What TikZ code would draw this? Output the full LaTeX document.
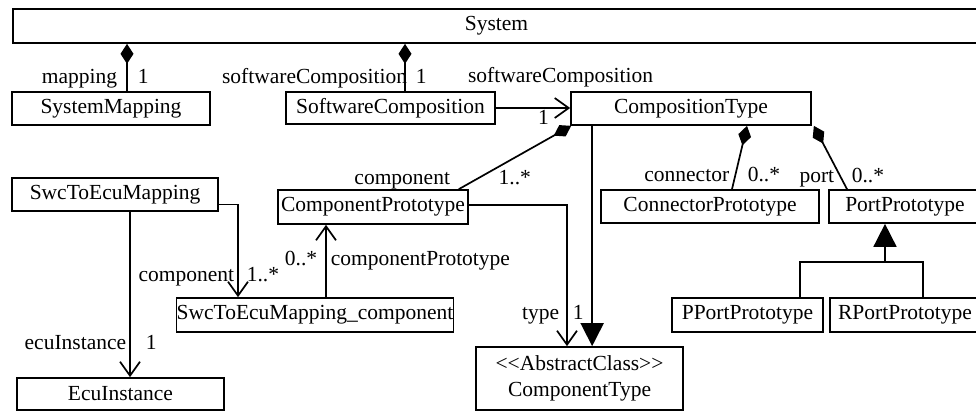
\documentclass[tikz,border=0pt]{standalone}
\usepackage{fontspec}
\setmainfont{Liberation Serif}
\usepackage{tikz}
\usetikzlibrary{arrows.meta}

\begin{document}
\begin{tikzpicture}
    [
        x=1pt, y=-1pt,
        font=\fontsize{21.5}{26}\selectfont,
        line width=1.7pt,
        cls/.style={draw, inner sep=0pt, minimum height=33pt},
        lbl/.style={inner sep=0pt},
        compo/.style={arrows={Diamond[length=20pt,width=13pt]-}},
        assoc/.style={arrows={-Straight Barb[length=14pt,width=20pt]}},
        inherit/.style={arrows={-Triangle[length=23pt,width=23pt]}},
    ]
    \useasboundingbox (0,0) rectangle (976,411);

    \node[cls, minimum width=967pt, minimum height=34pt] (sys) at (496.5,26) {System};
    \node[cls, minimum width=198pt] (sm) at (111,108.5) {SystemMapping};
    \node[cls, minimum width=209pt, minimum height=32pt] (swc) at (390.5,108) {SoftwareComposition};
    \node[cls, minimum width=240pt] (ct) at (691,108.5) {CompositionType};
    \node[cls, minimum width=206pt] (sw) at (115,194.5) {SwcToEcuMapping};
    \node[cls, minimum width=190pt, minimum height=34pt] (cp) at (373,207) {ComponentPrototype};
    \node[cls, minimum width=218pt] (con) at (710,206.5) {ConnectorPrototype};
    \node[cls, minimum width=152pt] (pp) at (905,206.5) {PortPrototype};
    \node[cls, minimum width=274pt, minimum height=34pt] (swcomp) at (315,315) {SwcToEcuMapping\_component};
    \node[cls, minimum width=151pt, minimum height=34pt] (ppp) at (747.5,315) {PPortPrototype};
    \node[cls, minimum width=150pt, minimum height=34pt] (rpp) at (905,315) {RPortPrototype};
    \node[cls, minimum width=207pt, minimum height=32pt] (ecu) at (120.5,394) {EcuInstance};
    \node[cls, minimum width=207pt, minimum height=63pt, align=center] (cty) at (579.5,378.5)
        {<{}<AbstractClass>{}>\\ComponentType};

    \draw[compo] ([xshift=16pt]sm.north |- sys.south) -- ([xshift=16pt]sm.north)
        node[lbl, anchor=base east, xshift=-9pt, yshift=8pt] {mapping}
        node[lbl, anchor=base west, xshift=10pt, yshift=8pt] {1};
    \draw[compo] ([xshift=14.5pt]swc.north |- sys.south) -- ([xshift=14.5pt]swc.north)
        node[lbl, anchor=base east, xshift=3pt, yshift=8pt] {softwareComposition}
        node[lbl, anchor=base west, xshift=10pt, yshift=8pt] {1};
    \draw[assoc] (swc.east) -- (swc.east -| ct.west)
        node[lbl, anchor=base west, xshift=-103pt, yshift=25pt] {softwareComposition}
        node[lbl, anchor=base west, xshift=-33pt, yshift=-17pt] {1};
    \draw[compo] ([xshift=1pt]ct.south west) -- ([xshift=-10pt]cp.north east)
        node[lbl, anchor=base east, xshift=-8pt, yshift=5pt] {component}
        node[lbl, anchor=base west, xshift=39pt, yshift=5pt] {1..*};
    \draw[compo] ([xshift=56pt]ct.south) -- ([xshift=22pt]con.north)
        node[lbl, anchor=base east, xshift=-2pt, yshift=8pt] {connector}
        node[lbl, anchor=base west, xshift=15pt, yshift=8pt] {0..*};
    \draw[compo] ([xshift=2pt]ct.south east) -- ([xshift=-58pt]pp.north)
        node[lbl, anchor=base east, xshift=-12pt, yshift=7pt] {port}
        node[lbl, anchor=base west, xshift=4pt, yshift=7pt] {0..*};
    \draw[inherit] ([xshift=22pt]ct.south west) -- ([xshift=22pt]ct.south west |- cty.north);
    \draw[assoc] ([yshift=2pt]cp.east) -| ([xshift=-12.5pt]cty.north)
        node[lbl, anchor=base east, xshift=-7pt, yshift=27pt] {type}
        node[lbl, anchor=base west, xshift=5pt, yshift=27pt] {1};
    \draw[assoc] ([yshift=-10pt]sw.east) -| ([xshift=-77pt]swcomp.north)
        node[lbl, anchor=base east, xshift=-3pt, yshift=16pt] {component}
        node[lbl, anchor=base west, xshift=8pt, yshift=16pt] {1..*};
    \draw[assoc] ([xshift=11pt]swcomp.north) -- ([xshift=11pt]swcomp.north |- cp.south)
        node[lbl, anchor=base east, xshift=-8pt, yshift=-41pt] {0..*}
        node[lbl, anchor=base west, xshift=4pt, yshift=-41pt] {componentPrototype};
    \draw[assoc] ([xshift=15pt]sw.south) -- ([xshift=15pt]sw.south |- ecu.north)
        node[lbl, anchor=base east, xshift=-3pt, yshift=28pt] {ecuInstance}
        node[lbl, anchor=base west, xshift=15pt, yshift=28pt] {1};

    \coordinate (gen) at ([xshift=-20pt,yshift=-38pt]pp.south);
    \draw[inherit] (gen) -- (gen |- pp.south);
    \draw ([xshift=52.5pt]ppp.north) |- (gen) -| ([xshift=18pt]rpp.north);
\end{tikzpicture}
\end{document}
